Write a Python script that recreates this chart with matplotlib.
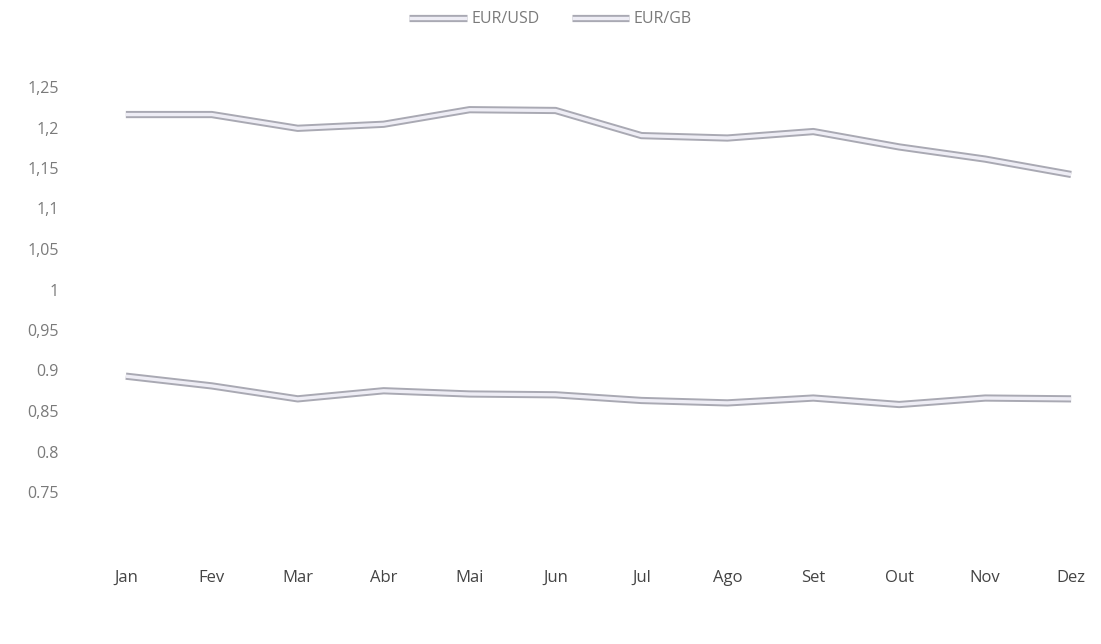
import matplotlib
matplotlib.use("Agg")
import matplotlib.pyplot as plt
import matplotlib.patheffects as pe

months = ["Jan", "Fev", "Mar", "Abr", "Mai", "Jun", "Jul", "Ago", "Set", "Out", "Nov", "Dez"]
eur_usd = [1.216, 1.216, 1.199, 1.204, 1.222, 1.221, 1.190, 1.187, 1.195, 1.176, 1.161, 1.142]
eur_gb = [0.893, 0.881, 0.865, 0.875, 0.871, 0.870, 0.863, 0.860, 0.866, 0.858, 0.866, 0.865]
y_ticks = [0.75, 0.80, 0.85, 0.90, 0.95, 1.00, 1.05, 1.10, 1.15, 1.20, 1.25]
y_tick_labels = ["0.75", "0.8", "0,85", "0.9", "0,95", "1", "1,05", "1,1", "1,15", "1,2", "1,25"]

plt.rcParams["font.family"] = ["Open Sans", "DejaVu Sans"]

W, H = 1101, 644
fig = plt.figure(figsize=(W / 100, H / 100), dpi=100)
ax = fig.add_axes([70 / W, 1 - 492 / H, (1090 - 70) / W, (492 - 87) / H])

edge = "#a9a9b3"
fill = "#eeedf5"
effects = [pe.Stroke(linewidth=5.2, foreground=edge, capstyle="butt"), pe.Normal()]

x = list(range(len(months)))
for series, name in ((eur_usd, "EUR/USD"), (eur_gb, "EUR/GB")):
    ax.plot(x, series, color=fill, lw=2.4, solid_joinstyle="round",
            solid_capstyle="butt", path_effects=effects, label=name)

ax.set_xlim(-0.65, 11.22)
ax.set_ylim(0.75, 1.25)
ax.set_xticks(x)
ax.set_xticklabels(months)
ax.set_yticks(y_ticks)
ax.set_yticklabels(y_tick_labels)

ax.tick_params(axis="x", length=0, pad=56, labelsize=12, labelcolor="#444444")
ax.tick_params(axis="y", length=0, pad=8, labelsize=11.5, labelcolor="#7a7a7a")
for s in ax.spines.values():
    s.set_visible(False)

leg = fig.legend(loc="upper center", bbox_to_anchor=(0.5, 1.005), ncol=2,
                 frameon=False, fontsize=11.5, handlelength=3.6,
                 columnspacing=2.0, handletextpad=0.3)
for t in leg.get_texts():
    t.set_color("#7a7a7a")

fig.savefig("out.png", dpi=100, facecolor="white")
